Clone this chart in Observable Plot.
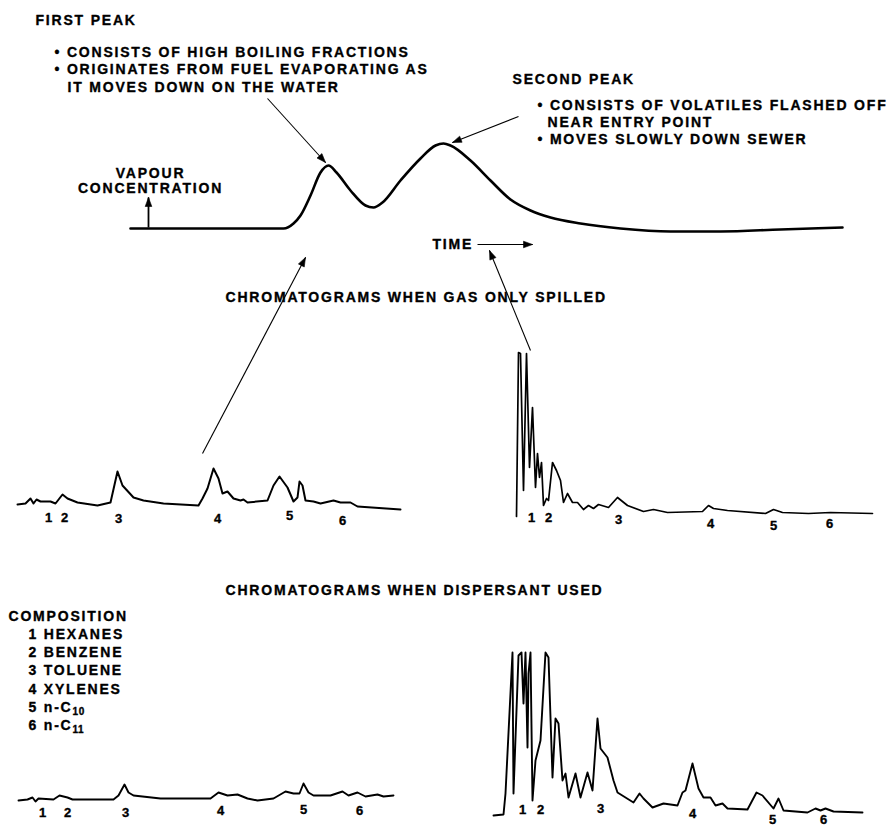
<!DOCTYPE html>
<html>
<head>
<meta charset="utf-8">
<script src="https://cdn.jsdelivr.net/npm/d3@7"></script>
<script src="https://cdn.jsdelivr.net/npm/@observablehq/plot@0.6"></script>
<style>
  body { margin: 0; background: #fff; }
  #page { position: relative; width: 887px; height: 826px; background: #fff; overflow: hidden; }
  #page svg { position: absolute; overflow: visible; }
</style>
</head>
<body>
<div id="page"></div>
<script>
// ---------------- DATA ----------------
// Vapour concentration vs time (arbitrary units)
const vapourTime = [0, 7, 15.3, 16.3, 17, 18, 19, 19.8, 20.6, 22, 23.5, 24.3, 25.2, 27, 29, 30.5, 31.3, 32, 34, 36, 38, 40, 42, 45, 49, 54, 59, 65, 71.2];
const vapourConc = [4, 4, 4, 9, 17, 37, 60, 67, 60, 42, 27, 25, 30, 52, 74, 87, 89, 87, 72, 52, 33, 22, 15, 9, 4, 1, 1, 3, 5];

// Chromatogram: gas only spilled, first peak (time, signal)
const gasFirstTime = [0, 0.8, 1.3, 1.6, 1.9, 2.3, 3.3, 3.8, 4.5, 5.0, 6.0, 8.0, 9.3, 10.0, 10.5, 11.6, 12.6, 14.6, 18.1, 18.5, 19.0, 19.6, 20.1, 20.5, 21.0, 21.6, 22.3, 22.6, 23.0, 25.0, 25.6, 26.2, 27.0, 27.6, 28.0, 28.2, 28.5, 28.8, 29.6, 30.3, 31.6, 32.3, 33.3, 34.0, 38.3];
const gasFirstSignal = [6, 7, 12, 7, 11, 9, 9, 7, 16, 12, 8, 5, 8, 39, 25, 13, 10, 7, 5, 12, 22, 42, 32, 17, 19, 12, 10, 11, 8, 10, 25, 34, 23, 9, 13, 29, 25, 10, 9, 7, 10, 8, 8, 4, 1];

// Chromatogram: gas only spilled, second peak
const gasSecondTime = [0, 0.2, 0.4, 0.7, 1.0, 1.3, 1.6, 1.9, 2.1, 2.3, 2.5, 2.7, 3.0, 3.2, 3.6, 4.0, 4.4, 4.7, 5.1, 5.6, 6.1, 6.7, 7.2, 7.7, 8.2, 9.2, 10.1, 11.1, 12.7, 13.7, 15.1, 18.6, 19.2, 19.7, 21.1, 24.9, 25.7, 26.6, 29.2, 31.4, 35.6];
const gasSecondSignal = [0, 164, 163, 26, 163, 49, 109, 29, 63, 39, 54, 11, 18, 16, 54, 46, 36, 14, 23, 14, 14, 7, 11, 8, 12, 9, 19, 11, 5, 7, 4, 5, 11, 8, 6, 3, 7, 4, 3, 4, 3];

// Chromatogram: dispersant used, first peak
const dispFirstTime = [0, 0.9, 1.4, 1.7, 2.0, 3.5, 4.1, 4.9, 5.4, 9.5, 10.0, 10.6, 11.0, 11.5, 14.2, 19.2, 20.0, 20.9, 21.9, 22.9, 23.9, 25.5, 26.7, 27.5, 28.1, 28.5, 29.0, 29.5, 31.2, 32.4, 33.0, 33.9, 34.7, 35.9, 36.5, 37.5];
const dispFirstSignal = [2, 3, 5, 1, 4, 3, 7, 5, 3, 3, 7, 18, 10, 7, 4, 4, 10, 7, 8, 4, 2, 4, 11, 9, 9, 19, 10, 7, 7, 11, 7, 10, 6, 8, 6, 7];

// Chromatogram: dispersant used, second peak
const dispSecondTime = [0, 1.0, 1.2, 1.9, 2.0, 2.5, 2.8, 3.0, 3.2, 3.4, 3.5, 3.7, 3.9, 4.2, 4.7, 5.2, 5.5, 5.9, 6.2, 6.5, 6.9, 7.2, 7.5, 8.2, 8.7, 9.4, 9.9, 10.4, 10.7, 11.4, 12.0, 12.4, 14.0, 14.6, 15.0, 15.9, 17.0, 18.4, 18.9, 19.2, 19.9, 20.5, 21.0, 21.7, 22.2, 22.9, 23.4, 25.4, 26.3, 26.9, 28.0, 28.5, 29.0, 31.4, 32.2, 32.7, 33.2, 34.0, 36.9];
const dispSecondSignal = [1, 2, 23, 164, 23, 161, 164, 113, 164, 69, 143, 164, 16, 56, 76, 164, 159, 39, 98, 93, 36, 43, 19, 43, 19, 44, 26, 98, 68, 59, 36, 24, 14, 23, 18, 9, 13, 11, 24, 26, 53, 28, 19, 19, 11, 13, 8, 7, 24, 21, 8, 18, 6, 4, 8, 6, 8, 5, 4];

// Peak identification labels and their retention times in each chromatogram
const peakNames = ["1", "2", "3", "4", "5", "6"];
const gasFirstPeakTimes = [3.1, 4.7, 10.1, 20.0, 27.2, 32.5];
const gasSecondPeakTimes = [1.5, 3.2, 10.2, 19.4, 25.7, 31.3];
const dispFirstPeakTimes = [2.4, 4.9, 10.7, 20.2, 28.5, 34.1];
const dispSecondPeakTimes = [2.9, 4.7, 10.7, 19.9, 27.9, 33.0];

// Composition legend
const compositionTitle = "COMPOSITION";
const compositionItems = ["1 HEXANES", "2 BENZENE", "3 TOLUENE", "4 XYLENES", "5 n-C\u2081\u2080", "6 n-C\u2081\u2081"];

// Annotation texts
const firstPeakTitle = "FIRST PEAK";
const firstPeakNotes = ["\u2022 CONSISTS OF HIGH BOILING FRACTIONS", "\u2022 ORIGINATES FROM FUEL EVAPORATING AS", "IT MOVES DOWN ON THE WATER"];
const secondPeakTitle = "SECOND PEAK";
const secondPeakNotes = ["\u2022 CONSISTS OF VOLATILES FLASHED OFF", "NEAR ENTRY POINT", "\u2022 MOVES SLOWLY DOWN SEWER"];
const yAxisLabel = ["VAPOUR", "CONCENTRATION"];
const xAxisLabel = "TIME";
const headingGas = "CHROMATOGRAMS WHEN GAS ONLY SPILLED";
const headingDisp = "CHROMATOGRAMS WHEN DISPERSANT USED";

// ---------------- LAYOUT ----------------
const FONT = "'Liberation Sans', Arial, 'DejaVu Sans', sans-serif";
const page = document.getElementById("page");

function place(svg, left, top) {
  svg.style.left = left + "px";
  svg.style.top = top + "px";
  page.appendChild(svg);
}

function panel(opts) {
  const {left, top, width, height, xDomain, yDomain, time, signal, curve, strokeWidth, peakTimes, labelLevels} = opts;
  const data = time.map((t, i) => ({t, s: signal[i]}));
  const marks = [
    Plot.line(data, {x: "t", y: "s", stroke: "#000", strokeWidth, curve, strokeLinejoin: "round", strokeLinecap: "round"})
  ];
  if (peakTimes) {
    const labels = peakTimes.map((t, i) => ({t, s: labelLevels[i], label: peakNames[i]}));
    marks.push(Plot.text(labels, {x: "t", y: "s", text: "label", fontSize: 13, fontWeight: "bold", fontFamily: FONT,
      fill: "#000", stroke: "#000", strokeWidth: 0.35}));
  }
  const svg = Plot.plot({
    width, height, margin: 0,
    x: {domain: xDomain, axis: null},
    y: {domain: yDomain, axis: null},
    style: {background: "transparent", overflow: "visible"},
    marks
  });
  place(svg, left, top);
}

// Vapour concentration curve
panel({left: 130, top: 132, width: 712, height: 100, xDomain: [0, 71.2], yDomain: [0, 100],
  time: vapourTime, signal: vapourConc, curve: "monotone-x", strokeWidth: 2.6});

// Chromatograms
panel({left: 17, top: 450, width: 385, height: 60, xDomain: [0, 38.5], yDomain: [0, 60],
  time: gasFirstTime, signal: gasFirstSignal, curve: "linear", strokeWidth: 2,
  peakTimes: gasFirstPeakTimes, labelLevels: [-7, -7, -8, -8, -5, -10]});
panel({left: 516, top: 346, width: 360, height: 170, xDomain: [0, 36], yDomain: [0, 170],
  time: gasSecondTime, signal: gasSecondSignal, curve: "linear", strokeWidth: 1.7,
  peakTimes: gasSecondPeakTimes, labelLevels: [-1, -1, -3, -7, -9, -7]});
panel({left: 18, top: 772, width: 380, height: 30, xDomain: [0, 38], yDomain: [0, 30],
  time: dispFirstTime, signal: dispFirstSignal, curve: "linear", strokeWidth: 1.9,
  peakTimes: dispFirstPeakTimes, labelLevels: [-10, -10, -10, -8, -7, -8]});
panel({left: 493, top: 646, width: 370, height: 170, xDomain: [0, 37], yDomain: [0, 170],
  time: dispSecondTime, signal: dispSecondSignal, curve: "linear", strokeWidth: 1.9,
  peakTimes: dispSecondPeakTimes, labelLevels: [7, 7, 8, 3, -3.5, -3]});

// Annotation overlay (page coordinates)
const leftNotes = [
  {text: firstPeakTitle, x: 35, y: 20},
  {text: firstPeakNotes[0], x: 54, y: 52},
  {text: firstPeakNotes[1], x: 54, y: 69.5},
  {text: firstPeakNotes[2], x: 67, y: 87},
  {text: secondPeakTitle, x: 512, y: 79},
  {text: secondPeakNotes[0], x: 537, y: 105},
  {text: secondPeakNotes[1], x: 547, y: 122},
  {text: secondPeakNotes[2], x: 537, y: 139},
  {text: xAxisLabel, x: 432, y: 244},
  {text: headingGas, x: 225, y: 297},
  {text: headingDisp, x: 225, y: 590},
  {text: compositionTitle, x: 8, y: 616},
  ...compositionItems.map((t, i) => ({text: t, x: 28, y: 634 + 18.2 * i}))
];
const centredNotes = [
  {text: yAxisLabel[0], x: 150, y: 173},
  {text: yAxisLabel[1], x: 150, y: 188}
];
const arrows = [
  {x1: 267, y1: 98, x2: 325, y2: 162, w: 1.1},
  {x1: 518, y1: 116, x2: 452, y2: 142, w: 1.1},
  {x1: 202, y1: 453, x2: 305, y2: 257, w: 1.1},
  {x1: 530, y1: 350, x2: 489, y2: 250, w: 1.1},
  {x1: 477, y1: 244, x2: 532, y2: 244, w: 1.0},
  {x1: 148, y1: 227, x2: 148, y2: 197, w: 1.8}
];
function headOf(a, L = 9, W = 3.3) {
  const dx = a.x2 - a.x1, dy = a.y2 - a.y1, len = Math.hypot(dx, dy);
  const ux = dx / len, uy = dy / len;
  const bx = a.x2 - ux * L, by = a.y2 - uy * L;
  return [[a.x2, a.y2], [bx - uy * W, by + ux * W], [bx + uy * W, by - ux * W], [a.x2, a.y2]];
}
const heads = arrows.flatMap((a, k) => headOf(a).map(([x, y]) => ({k, x, y})));

const textStyle = {fontSize: 14, fontWeight: "bold", fontFamily: FONT, fill: "#000", stroke: "#000", strokeWidth: 0.35};
const overlay = Plot.plot({
  width: 887, height: 826, margin: 0,
  x: {domain: [0, 887], range: [0, 887], axis: null},
  y: {domain: [0, 826], range: [0, 826], axis: null},
  style: {background: "transparent", overflow: "visible", letterSpacing: "1.8px"},
  marks: [
    Plot.link(arrows, {x1: "x1", y1: "y1", x2: "x2", y2: "y2", stroke: "#000", strokeWidth: d => d.w}),
    Plot.line(heads, {x: "x", y: "y", z: "k", fill: "#000", stroke: "#000", strokeWidth: 0.6}),
    Plot.text(leftNotes, {x: "x", y: "y", text: "text", textAnchor: "start", ...textStyle}),
    Plot.text(centredNotes, {x: "x", y: "y", text: "text", textAnchor: "middle", ...textStyle})
  ]
});

// Render chemical subscripts (n-C10, n-C11) as real subscript tspans
const subDigits = "\u2080\u2081\u2082\u2083\u2084\u2085\u2086\u2087\u2088\u2089";
overlay.querySelectorAll("text").forEach(t => {
  const m = t.textContent.match(/^(.*n-C)([\u2080-\u2089]+)$/);
  if (!m) return;
  t.textContent = m[1];
  const ts = document.createElementNS("http://www.w3.org/2000/svg", "tspan");
  ts.setAttribute("dy", "3.5");
  ts.setAttribute("font-size", "10");
  ts.setAttribute("letter-spacing", "0.6px");
  ts.textContent = [...m[2]].map(c => subDigits.indexOf(c)).join("");
  t.appendChild(ts);
});
place(overlay, 0, 0);
</script>
</body>
</html>
